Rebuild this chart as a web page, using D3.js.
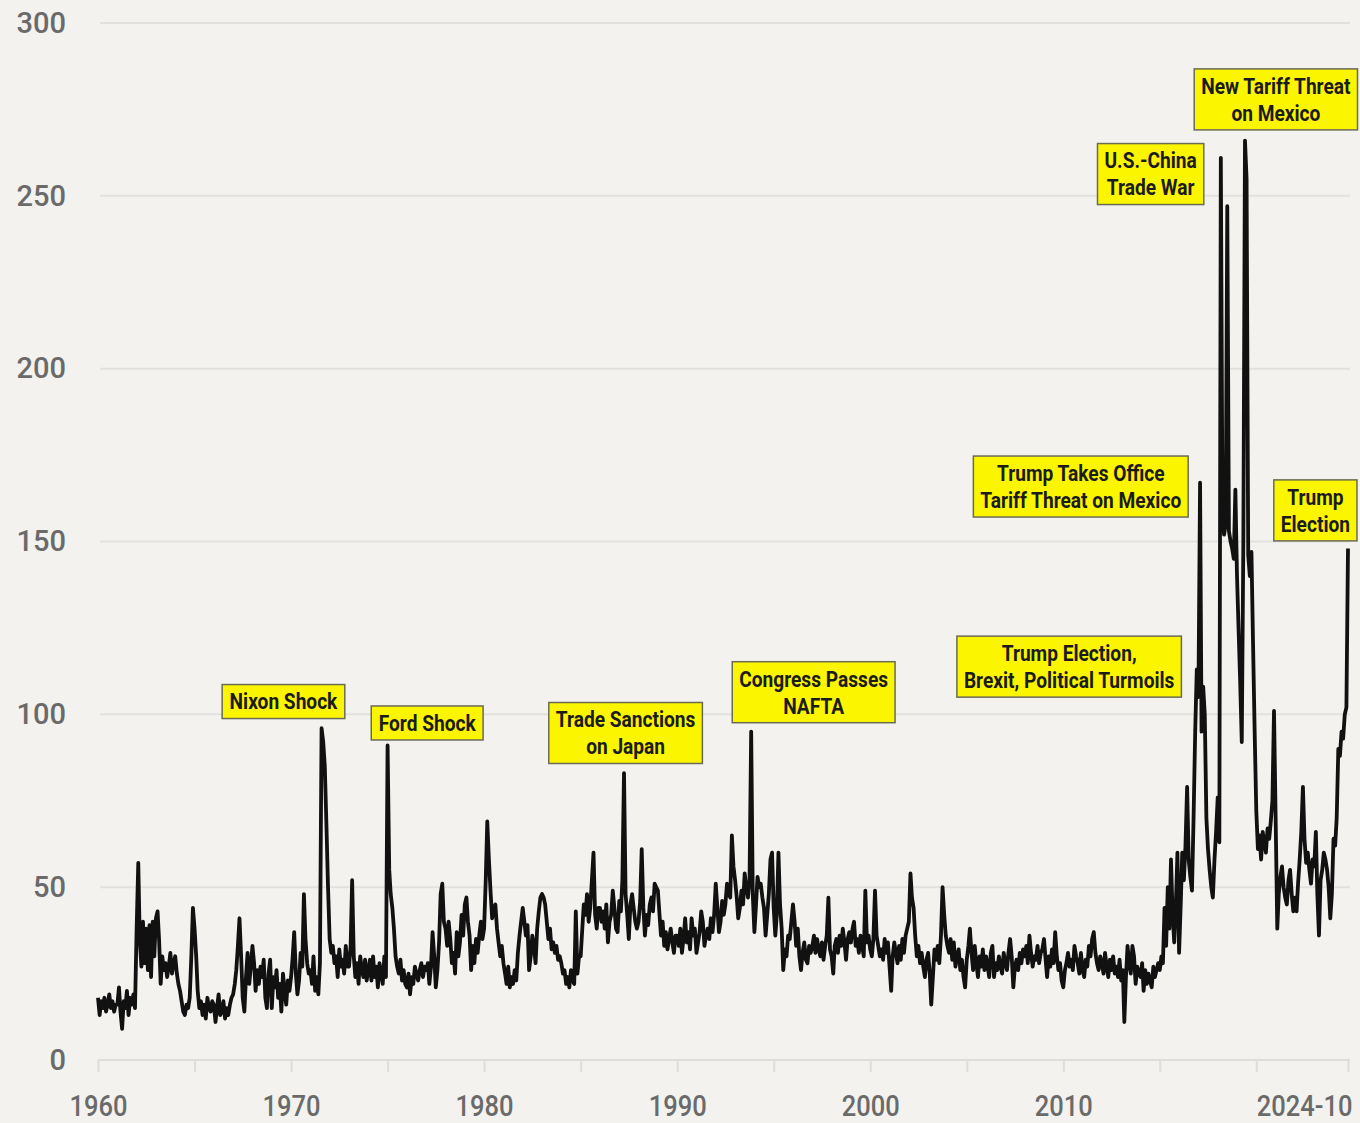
<!DOCTYPE html>
<html><head><meta charset="utf-8">
<script src="https://cdn.jsdelivr.net/npm/d3@7"></script>
<style>
html,body{margin:0;padding:0;background:#f3f2ef;}
svg{display:block;}
</style></head><body>
<svg id="chart" width="1360" height="1123"></svg>
<script>
// ---- DATA (monthly index, Jan 1960 – Oct 2024) ----
const startYear = 1960;
const m1960s = [
 18,13,17,15,18,14,16,19,15,17,14,16,
 16,21,14,9,17,15,20,13,18,16,19,15,
 38,57,35,27,40,28,38,26,39,24,40,30,
 41,43,35,22,30,26,28,24,27,31,25,28,
 30,25,22,20,17,14,13,16,15,18,30,44,
 38,30,20,15,17,13,16,12,18,15,14,17,
 16,11,15,19,13,14,17,12,15,13,16,18,
 19,22,26,33,41,30,18,14,24,31,22,27,
 33,28,20,26,22,27,24,29,18,15,25,29,
 15,24,21,26,18,22,14,25,20,16,23,20];
const m1970s = [
 24,30,37,25,19,23,31,27,48,35,28,25,
 26,22,30,20,24,19,28,96,92,85,68,50,
 35,31,33,28,30,24,32,27,29,25,33,27,
 27,33,52,30,24,28,22,30,26,24,29,23,
 26,29,23,30,24,27,21,28,25,22,30,24,
 91,55,48,44,38,30,27,25,29,23,26,22,
 21,25,19,24,22,27,25,23,26,28,24,27,
 26,28,22,27,37,30,21,26,34,48,51,40,
 38,33,40,35,28,31,25,37,30,34,42,36,
 45,47,40,36,26,33,28,35,31,36,40,35];
const m1980s = [
 38,52,69,58,49,41,44,45,38,34,30,33,
 28,25,22,27,21,24,22,26,23,31,36,40,
 44,40,36,39,26,30,36,33,28,38,43,47,
 48,47,45,40,35,38,32,34,31,33,29,30,
 28,25,26,22,24,21,26,23,22,43,25,30,
 30,38,45,42,48,40,44,52,60,42,38,44,
 44,40,43,38,45,34,40,42,49,44,38,37,
 46,43,52,83,48,42,35,45,48,44,40,38,
 40,46,61,44,36,42,39,45,47,43,51,50,
 49,42,36,40,33,37,32,35,38,34,31,36];
const m1990s = [
 36,33,38,31,35,41,34,37,32,41,36,38,
 31,34,37,43,40,33,36,38,35,41,37,42,
 51,44,37,40,46,42,45,51,48,47,65,56,
 52,47,41,44,49,45,54,50,47,52,95,48,
 37,45,53,50,51,47,44,36,42,48,58,60,
 44,36,42,60,45,38,26,32,30,36,35,40,
 45,40,33,38,30,26,31,34,29,28,33,31,
 33,36,31,35,32,30,34,29,33,36,47,32,
 30,25,33,35,31,36,33,38,34,29,35,37,
 34,38,40,33,35,31,36,33,30,49,34,36];
const m2000s = [
 32,30,35,49,36,33,30,32,29,35,31,34,
 27,20,30,34,31,28,33,29,35,31,36,38,
 40,54,47,44,36,30,33,28,31,27,24,29,
 31,25,16,24,32,29,33,28,36,50,42,36,
 33,31,35,29,34,27,30,32,26,29,24,21,
 29,33,38,31,26,33,28,24,30,27,32,26,
 30,27,24,31,33,24,28,26,30,27,25,31,
 28,26,31,35,30,21,27,29,26,31,28,32,
 30,33,28,36,31,27,30,29,33,28,31,32,
 35,29,24,30,27,32,28,37,30,26,28,23];
const m2010s = [
 21,26,28,31,27,29,26,33,30,28,25,31,
 26,24,29,27,33,30,35,37,31,28,26,30,
 28,25,31,27,24,29,26,30,25,27,24,29,
 23,26,11,24,33,28,25,33,30,22,27,25,
 24,28,20,26,22,25,23,21,27,24,26,28,
 26,30,28,44,33,50,38,58,42,34,45,60,
 31,45,60,52,62,79,58,53,49,70,95,113,
 105,167,95,108,100,70,61,55,50,47,58,66,
 76,63,261,158,152,155,247,153,150,148,145,165,
 140,124,110,92,150,266,255,146,140,147,120,95];
const m2020s = [
 72,61,65,58,66,63,60,67,64,69,75,101,
 70,38,48,53,56,50,47,45,52,55,48,43,
 47,43,51,58,66,79,64,57,60,55,51,58,
 56,66,48,36,52,55,60,58,55,50,41,48,
 64,62,70,90,88,95,93,100,102,148];

const yTicks = [0, 50, 100, 150, 200, 250, 300];
const xTickYears = [1960,1965,1970,1975,1980,1985,1990,1995,2000,2005,2010,2015,2020];
const xLabelYears = [1960,1970,1980,1990,2000,2010];
const endLabel = "2024-10";

const annLines = [
  ["Nixon Shock"],
  ["Ford Shock"],
  ["Trade Sanctions","on Japan"],
  ["Congress Passes","NAFTA"],
  ["Trump Election,","Brexit, Political Turmoils"],
  ["Trump Takes Office","Tariff Threat on Mexico"],
  ["U.S.-China","Trade War"],
  ["New Tariff Threat","on Mexico"],
  ["Trump","Election"]
];
const annDates = ["1969-08-10","1977-01-19","1987-05-01","1997-01-26","2010-04-22","2010-11-28","2014-07-12","2021-01-05","2023-01-23"];
const annValues = [103.7, 97.5, 94.6, 106.4, 113.8, 165.9, 256.3, 277.9, 159.0];

// ---- BUILD ----
const values = [].concat(m1960s, m1970s, m1980s, m1990s, m2000s, m2010s, m2020s);
const data = values.map((v, i) => ({date: new Date(startYear, i, 1), value: v}));
const parseDay = d3.timeParse("%Y-%m-%d");

const W = 1360, H = 1123;
const FONT = 'Roboto, "Noto Sans", sans-serif';
const X_SX = 0.88;    // horizontal condensing for x-axis labels
const Y_SX = 1.0;     // y-axis labels
const AN_SX = 0.87;   // annotation labels
const svg = d3.select("#chart");
svg.append("rect").attr("width", W).attr("height", H).attr("fill", "#f3f2ef");

const x = d3.scaleTime()
  .domain([data[0].date, data[data.length - 1].date])
  .range([98, 1348]);
const y = d3.scaleLinear().domain([0, 300]).range([1060, 23]);

// gridlines
svg.append("g")
  .selectAll("line")
  .data(yTicks.filter(d => d > 0))
  .join("line")
  .attr("x1", 100).attr("x2", 1350)
  .attr("y1", d => y(d)).attr("y2", d => y(d))
  .attr("stroke", "#e2e1dd").attr("stroke-width", 2);

function condense(sel, sx) {
  sel.each(function() {
    const t = d3.select(this);
    const ax = +t.attr("x") || 0;
    t.attr("x", 0).attr("transform", `translate(${ax},0) scale(${sx},1)`);
  });
}

// y axis labels
const yAxis = d3.axisLeft(y).tickValues(yTicks).tickSize(0).tickPadding(32);
const gy = svg.append("g").attr("transform", "translate(98,0)").call(yAxis);
gy.select(".domain").remove();
gy.selectAll("text")
  .attr("font-family", FONT).attr("font-weight", 500).attr("font-size", 29).attr("fill", "#6a6a6a");
condense(gy.selectAll("text"), Y_SX);

// x axis
const tickDates = xTickYears.map(yr => new Date(yr, 0, 1)).concat([data[data.length - 1].date]);
const xAxis = d3.axisBottom(x)
  .tickValues(tickDates)
  .tickSize(12)
  .tickPadding(23)
  .tickFormat((d, i) => {
    if (i === tickDates.length - 1) return endLabel;
    return xLabelYears.includes(d.getFullYear()) ? String(d.getFullYear()) : "";
  });
const gx = svg.append("g").attr("transform", "translate(0,1060)").call(xAxis);
gx.select(".domain").attr("stroke", "#deddd9").attr("stroke-width", 2)
  .attr("d", "M98,0H1350");
gx.selectAll(".tick line").attr("stroke", "#deddd9").attr("stroke-width", 2);
gx.selectAll("text")
  .attr("font-family", FONT).attr("font-weight", 500).attr("font-size", 29).attr("fill", "#6a6a6a");
gx.selectAll(".tick").filter((d, i) => i === tickDates.length - 1)
  .select("text").attr("text-anchor", "end").attr("x", 4);
condense(gx.selectAll("text"), X_SX);

// line
const line = d3.line().x(d => x(d.date)).y(d => y(d.value));
svg.append("path")
  .datum(data)
  .attr("fill", "none")
  .attr("stroke", "#111")
  .attr("stroke-width", 3.8)
  .attr("stroke-linejoin", "round")
  .attr("d", line);

// annotations
const annData = annLines.map((lines, i) => ({lines, date: parseDay(annDates[i]), value: annValues[i]}));
const LH = 27;
const ag = svg.append("g").selectAll("g").data(annData).join("g")
  .attr("transform", d => `translate(${x(d.date)},${y(d.value)})`);
ag.each(function(d) {
  const g = d3.select(this);
  const n = d.lines.length;
  const t = g.append("text")
    .attr("font-family", FONT).attr("font-weight", "bold").attr("font-size", 22)
    .attr("fill", "#1b1b1b").attr("text-anchor", "middle")
    .attr("transform", `scale(${AN_SX},1)`);
  d.lines.forEach((s, k) => {
    t.append("tspan").attr("x", 0).attr("y", (k - (n - 1) / 2) * LH).attr("dy", "0.36em").text(s);
  });
  const bw = t.node().getBBox().width * AN_SX;
  const padX = 7, h = n * LH + 7;
  g.insert("rect", "text")
    .attr("x", -bw / 2 - padX).attr("y", -h / 2)
    .attr("width", bw + 2 * padX).attr("height", h)
    .attr("fill", "#fbf500").attr("stroke", "#6b6b55").attr("stroke-width", 1.5);
});
</script>
</body></html>
